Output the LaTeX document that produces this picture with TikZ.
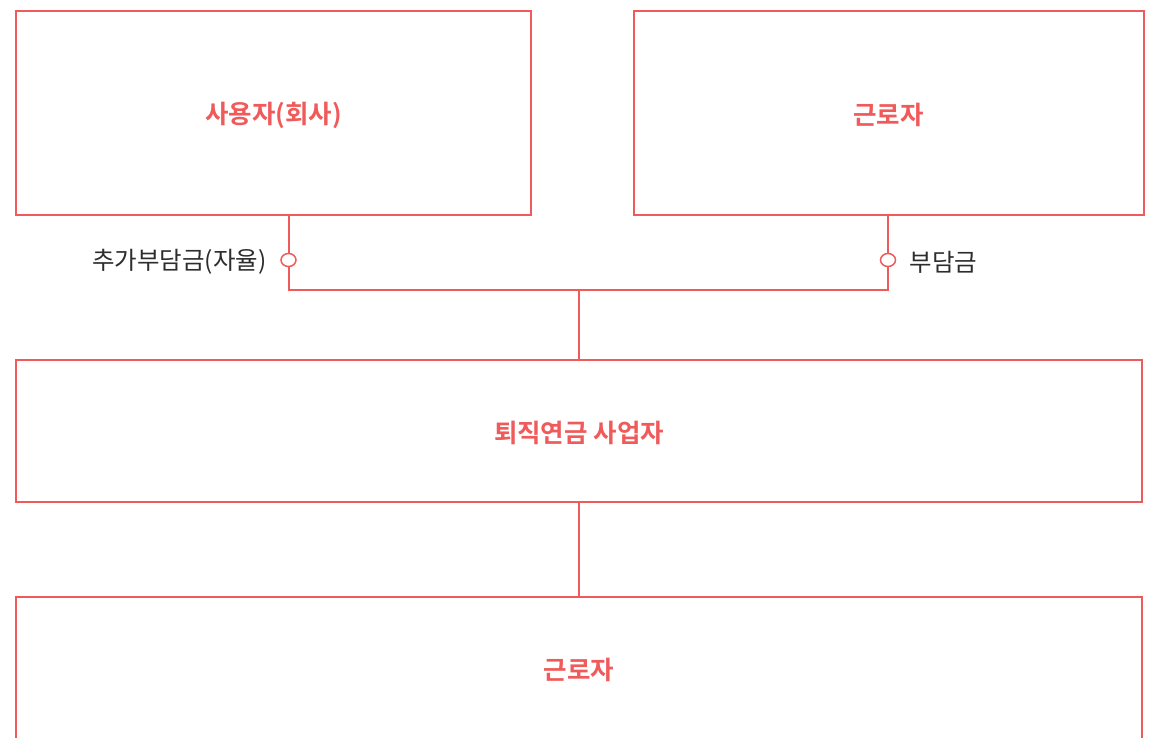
\documentclass[tikz,border=0pt]{standalone}
\usepackage{fontspec}
\newfontfamily\kr{Noto Sans CJK KR}
\newfontfamily\krb{Noto Sans CJK KR Bold}
\definecolor{accent}{RGB}{240,90,90}
\definecolor{txt}{RGB}{45,45,45}
\begin{document}
\begin{tikzpicture}[x=1pt,y=-1pt,
  boxn/.style={draw=accent,line width=2.5pt,fill=white},
  ttl/.style={text=accent,font=\krb\fontsize{25.5}{28}\selectfont},
  lbl/.style={text=txt,font=\kr\fontsize{24.5}{28}\selectfont},
  conn/.style={draw=accent,line width=2.5pt}]
\useasboundingbox (0,0) rectangle (1151,738);
\path[boxn] (16,11) rectangle (531,215);
\path[boxn] (634,11) rectangle (1144,215);
\path[boxn] (16,360) rectangle (1142,502);
\path[boxn] (16,597) rectangle (1142,760);
\node[ttl] (a) at (273.5,115) {사용자(회사)};
\node[ttl] (b) at (888.5,115) {근로자};
\node[ttl] (c) at (579,433) {퇴직연금 사업자};
\node[ttl] (d) at (579,670) {근로자};
\coordinate (aB) at (289,215);
\coordinate (bB) at (888,215);
\coordinate (cT) at (579,360);
\coordinate (cB) at (579,502);
\coordinate (dT) at (579,597);
\coordinate (j) at (579,290);
\draw[conn] (aB) |- (j) -| (bB);
\draw[conn] (j) -- (cT);
\draw[conn] (cB) -- (dT);
\draw[draw=accent,line width=1.5pt,fill=white] (288.5,260) ellipse (7.5pt and 6.5pt);
\draw[draw=accent,line width=1.5pt,fill=white] (888,260) ellipse (7.5pt and 6.5pt);
\node[lbl,anchor=east] (la) at (270,262) {추가부담금(자율)};
\node[lbl,anchor=west] (lb) at (906,262) {부담금};
\end{tikzpicture}
\end{document}
